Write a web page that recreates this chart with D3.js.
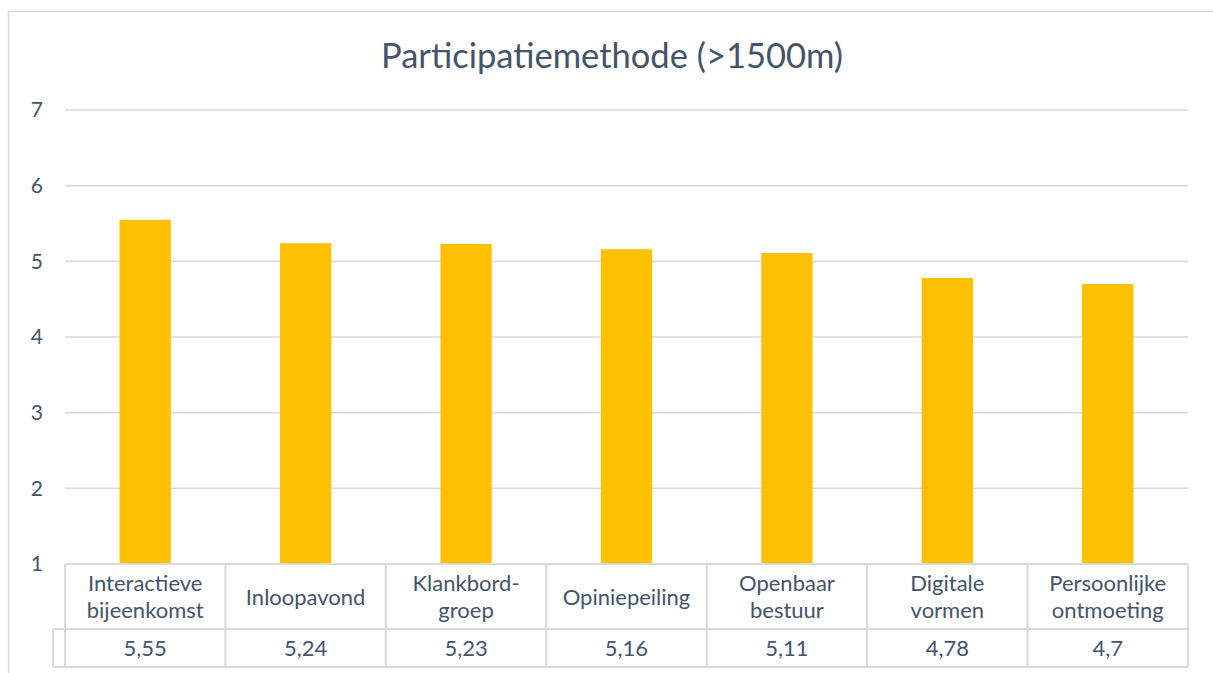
<!DOCTYPE html>
<html><head><meta charset="utf-8">
<script src="https://cdn.jsdelivr.net/npm/d3@7/dist/d3.min.js"></script>
<style>
html,body{margin:0;padding:0;background:#fff;}
svg{display:block;}
text{font-family:Lato,"Open Sans",sans-serif;fill:#44546a;}
</style></head><body>
<svg id="c" width="1213" height="673"></svg>
<script>
const title = "Participatiemethode (>1500m)";
const categories = [["Interactieve","bijeenkomst"],["Inloopavond"],["Klankbord-","groep"],["Opiniepeiling"],["Openbaar","bestuur"],["Digitale","vormen"],["Persoonlijke","ontmoeting"]];
const values = [5.55, 5.24, 5.23, 5.16, 5.11, 4.78, 4.7];
const valueLabels = ["5,55","5,24","5,23","5,16","5,11","4,78","4,7"];
const yTicks = [1,2,3,4,5,6,7];

(function(){
const svg = d3.select("#c");
const W = 1213, H = 673;
const pLeft = 65, pRight = 1188, pTop = 110, pBottom = 564;
const x = d3.scaleBand().domain(d3.range(categories.length)).range([pLeft, pRight]).paddingInner(0.68).paddingOuter(0.34);
const xc = d3.scaleBand().domain(d3.range(categories.length)).range([pLeft, pRight]);
const y = d3.scaleLinear().domain([1,7]).range([pBottom, pTop]);
const grid = "#d9d9d9";
const fs = 22;

svg.append("rect").attr("x",8.5).attr("y",11.5).attr("width",W+20).attr("height",H+20)
  .attr("fill","none").attr("stroke",grid).attr("stroke-width",1.5);

svg.append("text").attr("x",612).attr("y",68).attr("text-anchor","middle")
  .style("font-size","34.5px").text(title);

svg.append("g").selectAll("line").data(yTicks.filter(t=>t>1)).join("line")
  .attr("x1",pLeft).attr("x2",pRight).attr("y1",d=>y(d)).attr("y2",d=>y(d))
  .attr("stroke",grid).attr("stroke-width",1.5);

const yAxis = d3.axisLeft(y).tickValues(yTicks).tickSize(0).tickPadding(0).tickFormat(d3.format("d"));
const ga = svg.append("g").attr("transform",`translate(${43},0)`).call(yAxis);
ga.select(".domain").remove();
ga.selectAll("text").style("font-size","21px").attr("fill","#44546a").style("font-family","Lato,'Open Sans',sans-serif")
  .attr("dy","0.32em");

svg.append("g").selectAll("rect").data(values).join("rect")
  .attr("x",(d,i)=>x(i)).attr("width",x.bandwidth())
  .attr("y",d=>y(d)).attr("height",d=>y(1)-y(d)).attr("fill","#ffc000");

const r1 = 564, r2 = 629, r3 = 667, keyL = 53;
const tg = svg.append("g").attr("stroke",grid).attr("stroke-width",2).attr("fill","none");
tg.append("line").attr("x1",pLeft).attr("x2",pRight).attr("y1",r1).attr("y2",r1);
tg.append("line").attr("x1",keyL).attr("x2",pRight).attr("y1",r2).attr("y2",r2);
tg.append("line").attr("x1",keyL).attr("x2",pRight).attr("y1",r3).attr("y2",r3);
tg.append("line").attr("x1",keyL).attr("x2",keyL).attr("y1",r2).attr("y2",r3);
tg.selectAll(".v").data(d3.range(categories.length+1)).join("line")
  .attr("x1",i=>pLeft+i*xc.bandwidth()).attr("x2",i=>pLeft+i*xc.bandwidth())
  .attr("y1",r1).attr("y2",r3);

const cg = svg.append("g");
categories.forEach((lines,i)=>{
  const cx = xc(i)+xc.bandwidth()/2;
  const lh = 27;
  const cy = (r1+r2)/2;
  lines.forEach((s,j)=>{
    cg.append("text").attr("x",cx).attr("y",cy + (j-(lines.length-1)/2)*lh + 8)
      .attr("text-anchor","middle").style("font-size",fs+"px").text(s);
  });
  cg.append("text").attr("x",cx).attr("y",(r2+r3)/2+8).attr("text-anchor","middle")
    .style("font-size",fs+"px").text(valueLabels[i]);
});
})();
</script></body></html>
